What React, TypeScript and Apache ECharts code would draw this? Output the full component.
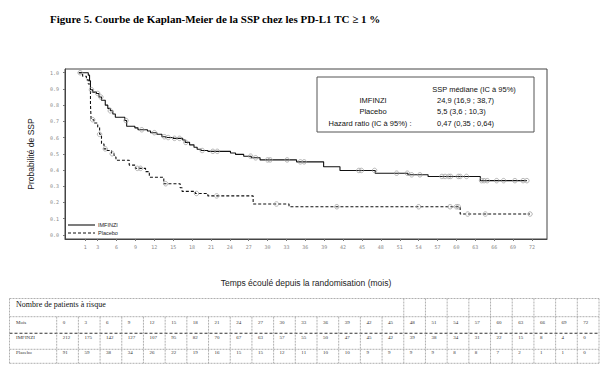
import React, { useEffect, useRef } from "react";
import * as echarts from "echarts";

// ---- Data ----
const months = [0, 3, 6, 9, 12, 15, 18, 21, 24, 27, 30, 33, 36, 39, 42, 45, 48, 51, 54, 57, 60, 63, 66, 69, 72];
const imfinziRisk = [212, 175, 142, 127, 107, 95, 82, 70, 67, 63, 57, 55, 50, 47, 45, 42, 39, 38, 34, 31, 22, 15, 8, 4, 0];
const placeboRisk = [91, 59, 38, 34, 26, 22, 19, 16, 15, 15, 12, 11, 10, 10, 9, 9, 9, 9, 8, 8, 7, 2, 1, 1, 0];

const xTicks = [1, 3, 6, 9, 12, 15, 18, 21, 24, 27, 30, 33, 36, 39, 42, 45, 48, 51, 54, 57, 60, 63, 66, 69, 72];
const yTicks = [0, 0.1, 0.2, 0.3, 0.4, 0.5, 0.6, 0.7, 0.8, 0.9, 1.0];

// Kaplan-Meier steps [time, survival after event]
const imfinziKM: [number, number][] = [
  [0, 1], [1.5, 0.985], [1.7, 0.95], [1.85, 0.895], [2.2, 0.88], [2.8, 0.872], [3.2, 0.85], [3.6, 0.83],
  [4.2, 0.8], [4.6, 0.78], [5.0, 0.765], [5.4, 0.745], [5.8, 0.725], [7.3, 0.705], [7.6, 0.67], [8.9, 0.66],
  [9.4, 0.648], [10.9, 0.64], [11.4, 0.63], [12.4, 0.62], [13.2, 0.605], [13.8, 0.6], [15.0, 0.595],
  [16.5, 0.585], [16.9, 0.57], [17.6, 0.555], [18.3, 0.54], [18.8, 0.528], [19.4, 0.52], [20.5, 0.515],
  [24.1, 0.505], [24.9, 0.496], [26.2, 0.485], [27.4, 0.475], [28.8, 0.462], [34.6, 0.45], [38.9, 0.42],
  [41.5, 0.397], [47.1, 0.38], [52.3, 0.37], [55.5, 0.36], [63.8, 0.334], [71.2, 0.334],
];
const placeboKM: [number, number][] = [
  [0, 1], [0.6, 0.978], [1.2, 0.956], [1.5, 0.93], [1.85, 0.8], [1.95, 0.71], [2.4, 0.69], [3.0, 0.665],
  [3.3, 0.62], [3.6, 0.56], [4.0, 0.53], [4.5, 0.52], [5.2, 0.5], [5.6, 0.48], [5.9, 0.46], [8.0, 0.43],
  [9.0, 0.41], [10.6, 0.39], [11.2, 0.355], [13.5, 0.315], [16.1, 0.29], [16.4, 0.268], [18.5, 0.255],
  [20.5, 0.24], [27.7, 0.19], [33.4, 0.173], [60.6, 0.128], [71.7, 0.128],
];
// censoring times
const imfinziCensor = [2.0, 3.0, 3.5, 5.0, 7.5, 10.0, 12.0, 13.6, 14.2, 15.2, 16.0, 17.0, 19.6, 21.3, 22.0,
  27.3, 28.1, 30.0, 30.4, 33.1, 35.2, 35.8, 44.5, 44.9, 47.0, 50.5, 52.2, 52.9, 54.2, 57.7, 58.2, 58.8,
  59.1, 60.3, 60.6, 61.6, 64.0, 64.4, 64.9, 66.4, 67.5, 69.3, 70.6, 71.2];
const placeboCensor = [0.2, 2.2, 3.3, 4.2, 5.3, 9.3, 9.8, 13.8, 18.7, 21.9, 31.4, 41.0, 54.0, 59.0, 60.0,
  60.3, 61.8, 64.6, 71.7];

const stepAt = (curve: [number, number][], t: number) => {
  let s = curve[0][1];
  for (const [ct, cs] of curve) if (ct <= t) s = cs;
  return s;
};

const serif = "'Liberation Serif', 'Times New Roman', serif";
const sans = "'Liberation Sans', Arial, sans-serif";
const mono = "'DejaVu Sans Mono', monospace";

function buildTable(): any[] {
  const els: any[] = [];
  const L = 9.5, R = 599, T = 298.5, H1 = 316.7, H2 = 333.3, H3 = 349.3, B = 363.3;
  const c0 = 56.7;
  const cw = (R - c0) / months.length;
  const gray = { stroke: "#9a9a9a", lineWidth: 0.8, lineDash: [2, 1] };
  const hline = (y: number, style: any) => ({ type: "line", silent: true, shape: { x1: L, y1: y, x2: R, y2: y }, style });
  const vline = (x: number, y1: number, y2: number) => ({ type: "line", silent: true, shape: { x1: x, y1, x2: x, y2 }, style: gray });
  els.push(hline(T, gray), hline(H1, gray), hline(H3, gray), hline(B, gray));
  els.push(hline(H2, { stroke: "#333", lineWidth: 1.1, lineDash: [3, 2] }));
  els.push(vline(L, T, B), vline(R, T, B), vline(c0, H1, B));
  for (let i = 1; i < months.length; i++) {
    const x = c0 + i * cw;
    els.push(vline(x, i >= 16 ? T : H1, B));
  }
  els.push({ type: "text", silent: true, x: 16, y: 304, style: { text: "Nombre de patients à risque", font: `8px ${serif}`, fill: "#111", verticalAlign: "middle" } });
  const rows: [string, number[], number][] = [["Mois", months, 322.3], ["IMFINZI", imfinziRisk, 337.3], ["Placebo", placeboRisk, 352.3]];
  rows.forEach(([lab, vals, y]) => {
    els.push({ type: "text", silent: true, x: 16, y, style: { text: lab, font: `5px ${serif}`, fill: "#333", verticalAlign: "middle" } });
    vals.forEach((v, i) => {
      els.push({ type: "text", silent: true, x: c0 + i * cw + 6, y, style: { text: String(v), font: `5px ${serif}`, fill: "#333", verticalAlign: "middle" } });
    });
  });
  return els;
}

export default function App() {
  const ref = useRef<HTMLDivElement>(null);
  useEffect(() => {
    if (!ref.current) return;
    const chart = echarts.init(ref.current, null, { renderer: "svg" });
    const infoFont = `7.5px ${sans}`;
    const legFont = `5.5px ${sans}`;
    chart.setOption({
      animation: false,
      backgroundColor: "#fff",
      title: {
        text: "Figure 5. Courbe de Kaplan-Meier de la SSP chez les PD-L1 TC ≥ 1 %",
        left: 45, top: 8,
        textStyle: { fontFamily: serif, fontWeight: "bold", fontSize: 11, color: "#000" },
      },
      grid: { left: 65, top: 69, width: 482, height: 170, show: true, borderColor: "#444", borderWidth: 1 },
      xAxis: {
        type: "value", min: -2.2, max: 74.4,
        name: "Temps écoulé depuis la randomisation (mois)", nameLocation: "middle", nameGap: 39,
        nameTextStyle: { fontFamily: sans, fontSize: 8.5, color: "#222" },
        axisLine: { show: true, onZero: false, lineStyle: { color: "#444" } },
        axisTick: { show: true, customValues: xTicks, length: 2, lineStyle: { color: "#777" } },
        axisLabel: { customValues: xTicks, fontSize: 5, color: "#888", fontFamily: mono, margin: 5 },
        splitLine: { show: false },
      },
      yAxis: {
        type: "value", min: -0.026, max: 1.023,
        name: "Probabilité de SSP", nameLocation: "middle", nameGap: 30, nameRotate: 90,
        nameTextStyle: { fontFamily: sans, fontSize: 8.5, color: "#222" },
        axisLine: { show: true, onZero: false, lineStyle: { color: "#444" } },
        axisTick: { show: true, customValues: yTicks, length: 2, lineStyle: { color: "#777" } },
        axisLabel: { customValues: yTicks, formatter: (v: number) => v.toFixed(1), fontSize: 5, color: "#888", fontFamily: mono, margin: 6 },
        splitLine: { show: false },
      },
      series: [
        { name: "IMFINZI", type: "line", step: "end", data: imfinziKM, symbol: "none", lineStyle: { color: "#111", width: 1.1 }, itemStyle: { color: "#111" }, z: 3 },
        { name: "Placebo", type: "line", step: "end", data: placeboKM, symbol: "none", lineStyle: { color: "#111", width: 1.1, type: [3, 2] }, itemStyle: { color: "#111" }, z: 3 },
        { name: "IMFINZI censurés", type: "scatter", data: imfinziCensor.map((t) => [t, stepAt(imfinziKM, t)]), symbol: "circle", symbolSize: 4.5, itemStyle: { color: "none", borderColor: "#9a9a9a", borderWidth: 0.9 }, z: 4 },
        { name: "Placebo censurés", type: "scatter", data: placeboCensor.map((t) => [t, stepAt(placeboKM, t)]), symbol: "circle", symbolSize: 4.5, itemStyle: { color: "none", borderColor: "#9a9a9a", borderWidth: 0.9 }, z: 4 },
      ],
      graphic: [
        { type: "rect", silent: true, shape: { x: 317, y: 77, width: 217, height: 55 }, style: { fill: "#fff", stroke: "#555", lineWidth: 1 }, z: 10 },
        { type: "text", silent: true, x: 474, y: 89, z: 11, style: { text: "SSP médiane (IC à 95%)", font: infoFont, fill: "#111", align: "center", verticalAlign: "middle" } },
        { type: "text", silent: true, x: 373, y: 100, z: 11, style: { text: "IMFINZI", font: infoFont, fill: "#111", align: "center", verticalAlign: "middle" } },
        { type: "text", silent: true, x: 373, y: 111, z: 11, style: { text: "Placebo", font: infoFont, fill: "#111", align: "center", verticalAlign: "middle" } },
        { type: "text", silent: true, x: 370, y: 123, z: 11, style: { text: "Hazard ratio (IC à 95%) :", font: infoFont, fill: "#111", align: "center", verticalAlign: "middle" } },
        { type: "text", silent: true, x: 437, y: 100, z: 11, style: { text: "24,9 (16,9 ; 38,7)", font: infoFont, fill: "#111", verticalAlign: "middle" } },
        { type: "text", silent: true, x: 437, y: 111, z: 11, style: { text: "5,5 (3,6 ; 10,3)", font: infoFont, fill: "#111", verticalAlign: "middle" } },
        { type: "text", silent: true, x: 437, y: 123, z: 11, style: { text: "0,47 (0,35 ; 0,64)", font: infoFont, fill: "#111", verticalAlign: "middle" } },
        // bottom-left legend
        { type: "line", silent: true, z: 11, shape: { x1: 68, y1: 225, x2: 95, y2: 225 }, style: { stroke: "#111", lineWidth: 1.1 } },
        { type: "line", silent: true, z: 11, shape: { x1: 68, y1: 233, x2: 95, y2: 233 }, style: { stroke: "#111", lineWidth: 1.1, lineDash: [3, 2] } },
        { type: "text", silent: true, x: 98, y: 225, z: 11, style: { text: "IMFINZI", font: legFont, fill: "#222", verticalAlign: "middle" } },
        { type: "text", silent: true, x: 98, y: 233, z: 11, style: { text: "Placebo", font: legFont, fill: "#222", verticalAlign: "middle" } },
        ...buildTable(),
      ],
    });
    return () => chart.dispose();
  }, []);
  return <div ref={ref} style={{ position: "absolute", left: 0, top: 0, width: 605, height: 376 }} />;
}
